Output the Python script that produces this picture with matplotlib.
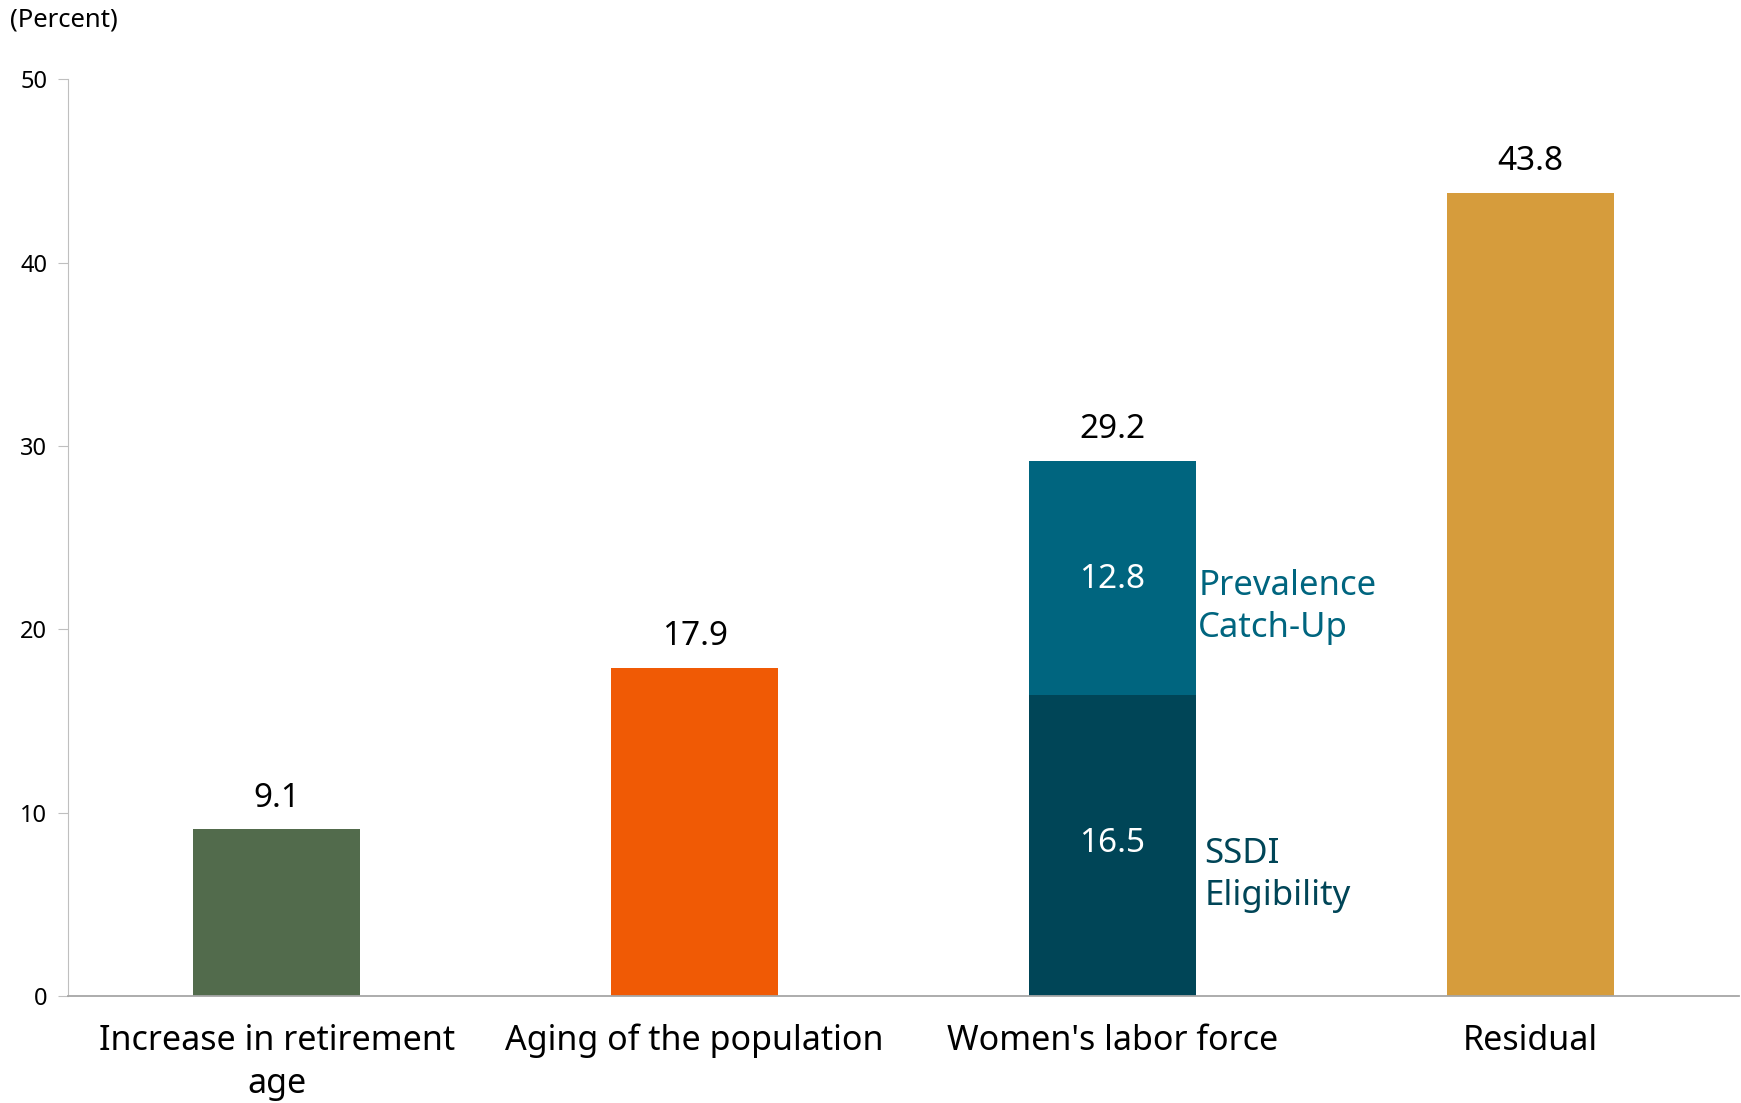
import matplotlib.pyplot as plt

# categories and values
categories = ['Increase in retirement\nage', 'Aging of the population', "Women's labor force", 'Residual']
simple_values = [9.1, 17.9, None, 43.8]
simple_colors = ['#526b4c', '#f05a05', None, '#d69c3c']

# women's labor force is split into two stacked parts
ssdi_eligibility = 16.4
prevalence_catch_up = 12.8
stack_labels = ['16.5', '12.8']
stack_total_label = '29.2'

plt.rcParams['font.family'] = ['Noto Sans', 'DejaVu Sans']

fig = plt.figure(figsize=(17.41, 11.03), dpi=100)
ax = fig.add_axes([0.039, 0.097, 0.96, 0.831])

x = list(range(len(categories)))
width = 0.4

# plain bars
for i, v in enumerate(simple_values):
    if v is None:
        continue
    ax.bar(i, v, width=width, color=simple_colors[i])
    ax.text(i, v + 0.8, f'{v:.1f}', ha='center', va='bottom', fontsize=24)

# stacked bar
ax.bar(2, ssdi_eligibility, width=width, color='#004557')
ax.bar(2, prevalence_catch_up, width=width, bottom=ssdi_eligibility, color='#00657f')
ax.text(2, ssdi_eligibility / 2 + 0.1, stack_labels[0], ha='center', va='center', fontsize=24, color='white')
ax.text(2, ssdi_eligibility + prevalence_catch_up / 2 - 0.1, stack_labels[1], ha='center', va='center',
        fontsize=24, color='white')
ax.text(2, ssdi_eligibility + prevalence_catch_up + 0.8, stack_total_label, ha='center', va='bottom', fontsize=24)

# side labels for the stacked parts
ax.text(2 + width / 2 + 0.005, 21.2, 'Prevalence\nCatch-Up', ha='left', va='center', fontsize=25,
        color='#00657f', linespacing=1.3)
ax.text(2 + width / 2 + 0.02, 6.6, 'SSDI\nEligibility', ha='left', va='center', fontsize=25,
        color='#004557', linespacing=1.3)

ax.set_xlim(-0.5, 3.5)
ax.set_ylim(0, 50)
ax.set_yticks([0, 10, 20, 30, 40, 50])
ax.set_xticks(x)
ax.set_xticklabels(categories, fontsize=24.5, linespacing=1.35)
ax.tick_params(axis='x', length=0, pad=20)
ax.tick_params(axis='y', labelsize=17, length=7, color='#bfbfbf', pad=8)

for side in ['top', 'right']:
    ax.spines[side].set_visible(False)
ax.spines['left'].set_color('#bfbfbf')
ax.spines['bottom'].set_color('#a6a6a6')
ax.spines['bottom'].set_linewidth(1.3)

fig.text(0.006, 0.982, '(Percent)', ha='left', va='center', fontsize=18.5)

fig.savefig('out.png', dpi=100)
